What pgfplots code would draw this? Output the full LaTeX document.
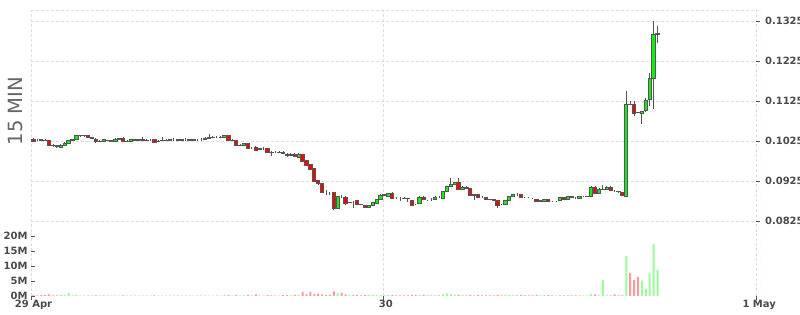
\documentclass[border=0pt]{standalone}
\usepackage{fontspec}
\setmainfont{DejaVu Sans}
\usepackage{pgfplots}
\usepackage{pgfplotstable}
\pgfplotsset{compat=1.18}
\definecolor{gridc}{HTML}{DDDDDD}
\definecolor{wick}{HTML}{555555}
\definecolor{upc}{HTML}{11EE11}
\definecolor{downc}{HTML}{FF0000}
\definecolor{vup}{HTML}{99FF99}
\definecolor{vdown}{HTML}{FF9999}
\definecolor{lab}{HTML}{4A4A4A}
\definecolor{titlec}{HTML}{666666}
\tikzset{gline/.style={gridc, dash pattern=on 3pt off 2pt, line width=0.8pt}}

\pgfplotstableread{
i O H L C V
0 0.10293 0.10313 0.10225 0.10233 0.3
1 0.10275 0.10300 0.10250 0.10275 0.2
2 0.10275 0.10300 0.10238 0.10268 0.3
3 0.10268 0.10288 0.10238 0.10258 0.3
4 0.10258 0.10275 0.10125 0.10143 0.5
5 0.10143 0.10163 0.10093 0.10125 0.2
6 0.10125 0.10150 0.10075 0.10108 0.2
7 0.10093 0.10163 0.10063 0.10143 0.3
8 0.10143 0.10213 0.10125 0.10193 0.4
9 0.10193 0.10275 0.10175 0.10258 1.1
10 0.10258 0.10300 0.10238 0.10288 0.2
11 0.10288 0.10400 0.10275 0.10375 0.3
12 0.10375 0.10408 0.10350 0.10380 0.1
13 0.10380 0.10400 0.10350 0.10375 0.1
14 0.10375 0.10393 0.10313 0.10325 0.1
15 0.10325 0.10338 0.10288 0.10300 0.1
16 0.10293 0.10313 0.10200 0.10225 0.2
17 0.10225 0.10263 0.10213 0.10238 0.1
18 0.10225 0.10288 0.10213 0.10275 0.2
19 0.10263 0.10275 0.10250 0.10250 0.1
20 0.10250 0.10263 0.10225 0.10243 0.1
21 0.10225 0.10313 0.10213 0.10293 0.2
22 0.10293 0.10325 0.10275 0.10300 0.1
23 0.10318 0.10338 0.10213 0.10225 0.2
24 0.10238 0.10263 0.10225 0.10243 0.1
25 0.10238 0.10300 0.10225 0.10280 0.2
26 0.10275 0.10300 0.10250 0.10268 0.1
27 0.10268 0.10300 0.10250 0.10275 0.1
28 0.10275 0.10338 0.10250 0.10268 0.1
29 0.10268 0.10288 0.10238 0.10263 0.1
30 0.10275 0.10300 0.10250 0.10275 0.1
31 0.10275 0.10288 0.10200 0.10218 0.2
32 0.10225 0.10263 0.10213 0.10243 0.1
33 0.10250 0.10338 0.10238 0.10263 0.1
34 0.10263 0.10288 0.10250 0.10268 0.1
35 0.10268 0.10300 0.10250 0.10275 0.1
36 0.10275 0.10325 0.10250 0.10275 0.1
37 0.10275 0.10300 0.10238 0.10268 0.1
38 0.10268 0.10300 0.10250 0.10275 0.1
39 0.10275 0.10313 0.10250 0.10275 0.1
40 0.10275 0.10288 0.10250 0.10268 0.1
41 0.10268 0.10300 0.10250 0.10275 0.1
42 0.10275 0.10300 0.10250 0.10275 0.1
43 0.10275 0.10313 0.10238 0.10275 0.1
44 0.10275 0.10338 0.10263 0.10318 0.2
45 0.10318 0.10413 0.10305 0.10325 0.1
46 0.10325 0.10363 0.10313 0.10333 0.1
47 0.10333 0.10363 0.10313 0.10333 0.1
48 0.10333 0.10375 0.10313 0.10338 0.1
49 0.10333 0.10405 0.10325 0.10383 0.3
50 0.10383 0.10400 0.10250 0.10258 0.3
51 0.10263 0.10288 0.10238 0.10258 0.1
52 0.10258 0.10275 0.10113 0.10133 0.3
53 0.10138 0.10163 0.10113 0.10143 0.1
54 0.10143 0.10200 0.10125 0.10188 0.2
55 0.10193 0.10200 0.10063 0.10068 0.3
56 0.10075 0.10100 0.10038 0.10075 0.1
57 0.10093 0.10113 0.09988 0.10008 0.5
58 0.10025 0.10050 0.10013 0.10050 0.2
59 0.10050 0.10088 0.10013 0.10050 0.1
60 0.10050 0.10063 0.09950 0.09968 0.3
61 0.09963 0.09988 0.09883 0.09958 0.2
62 0.09958 0.09988 0.09938 0.09958 0.1
63 0.09958 0.09988 0.09950 0.09963 0.1
64 0.09968 0.09988 0.09913 0.09925 0.3
65 0.09918 0.09938 0.09850 0.09875 0.3
66 0.09875 0.09938 0.09863 0.09918 0.2
67 0.09918 0.09938 0.09838 0.09858 0.3
68 0.09843 0.09938 0.09825 0.09918 0.3
69 0.09918 0.09930 0.09725 0.09733 1.4
70 0.09750 0.09763 0.09613 0.09625 0.5
71 0.09650 0.09663 0.09513 0.09525 1.4
72 0.09550 0.09563 0.09213 0.09233 0.6
73 0.09258 0.09275 0.09150 0.09175 0.8
74 0.09175 0.09188 0.08938 0.08958 0.5
75 0.08958 0.09025 0.08900 0.08958 0.3
76 0.08958 0.08975 0.08900 0.08958 0.4
77 0.08958 0.08975 0.08513 0.08568 1.5
78 0.08568 0.08875 0.08538 0.08858 1.0
79 0.08858 0.08888 0.08825 0.08858 1.0
80 0.08843 0.08863 0.08638 0.08693 0.5
81 0.08700 0.08725 0.08688 0.08708 0.3
82 0.08708 0.08738 0.08575 0.08708 0.3
83 0.08750 0.08763 0.08638 0.08668 0.4
84 0.08663 0.08675 0.08638 0.08650 0.2
85 0.08643 0.08650 0.08575 0.08593 0.3
86 0.08593 0.08650 0.08575 0.08643 0.3
87 0.08625 0.08725 0.08613 0.08708 0.3
88 0.08693 0.08788 0.08675 0.08775 0.3
89 0.08775 0.08913 0.08763 0.08893 0.4
90 0.08893 0.08900 0.08863 0.08900 0.2
91 0.08868 0.08950 0.08850 0.08933 0.3
92 0.08933 0.08975 0.08800 0.08818 0.3
93 0.08818 0.08850 0.08800 0.08818 0.2
94 0.08818 0.08838 0.08750 0.08818 0.2
95 0.08818 0.08838 0.08800 0.08813 0.2
96 0.08813 0.08825 0.08725 0.08800 0.2
97 0.08758 0.08775 0.08625 0.08643 0.4
98 0.08650 0.08675 0.08638 0.08650 0.3
99 0.08675 0.08863 0.08663 0.08843 0.4
100 0.08843 0.08863 0.08763 0.08775 0.4
101 0.08763 0.08775 0.08750 0.08763 0.2
102 0.08763 0.08825 0.08750 0.08763 0.2
103 0.08775 0.08863 0.08763 0.08843 0.2
104 0.08843 0.08863 0.08825 0.08843 0.2
105 0.08818 0.09000 0.08800 0.08983 0.5
106 0.08983 0.09125 0.08975 0.09108 0.9
107 0.09108 0.09318 0.09088 0.09150 0.6
108 0.09150 0.09225 0.09138 0.09208 0.4
109 0.09208 0.09318 0.09013 0.09025 0.3
110 0.09025 0.09113 0.09013 0.09093 0.3
111 0.09093 0.09113 0.09038 0.09050 0.2
112 0.09050 0.09063 0.08880 0.08893 0.4
113 0.08893 0.08913 0.08775 0.08900 0.2
114 0.08918 0.08925 0.08825 0.08843 0.3
115 0.08843 0.08863 0.08825 0.08843 0.2
116 0.08833 0.08850 0.08780 0.08793 0.2
117 0.08788 0.08800 0.08763 0.08780 0.2
118 0.08780 0.08788 0.08750 0.08763 0.2
119 0.08750 0.08763 0.08583 0.08643 0.4
120 0.08650 0.08663 0.08638 0.08650 0.2
121 0.08650 0.08775 0.08638 0.08758 0.3
122 0.08758 0.08875 0.08750 0.08858 0.3
123 0.08863 0.08913 0.08838 0.08900 0.2
124 0.08900 0.08950 0.08875 0.08900 0.2
125 0.08918 0.08925 0.08825 0.08843 0.3
126 0.08838 0.08850 0.08825 0.08838 0.2
127 0.08825 0.08850 0.08813 0.08825 0.2
128 0.08813 0.08825 0.08800 0.08813 0.2
129 0.08793 0.08800 0.08725 0.08733 0.3
130 0.08738 0.08763 0.08725 0.08750 0.2
131 0.08733 0.08775 0.08725 0.08775 0.3
132 0.08788 0.08800 0.08725 0.08738 0.3
133 0.08738 0.08750 0.08725 0.08738 0.2
134 0.08738 0.08750 0.08725 0.08738 0.1
135 0.08750 0.08850 0.08738 0.08833 0.3
136 0.08833 0.08850 0.08788 0.08793 0.2
137 0.08775 0.08875 0.08763 0.08858 0.3
138 0.08858 0.08868 0.08813 0.08825 0.2
139 0.08818 0.08850 0.08800 0.08818 0.2
140 0.08808 0.08875 0.08800 0.08858 0.2
141 0.08858 0.08875 0.08850 0.08858 0.1
142 0.08858 0.08875 0.08850 0.08863 0.1
143 0.08863 0.09113 0.08850 0.09093 0.6
144 0.09093 0.09113 0.08925 0.08943 0.5
145 0.08943 0.09063 0.08930 0.09043 0.2
146 0.09043 0.09150 0.09025 0.09048 5.3
147 0.09043 0.09113 0.09025 0.09093 0.2
148 0.09093 0.09113 0.09000 0.09008 0.2
149 0.09000 0.09025 0.08975 0.09000 0.5
150 0.08988 0.09000 0.08950 0.08983 0.2
151 0.08958 0.08975 0.08863 0.08875 0.2
152 0.08863 0.11500 0.08850 0.11168 13.3
153 0.11168 0.11250 0.11138 0.11163 7.7
154 0.11168 0.11250 0.10863 0.10943 5.3
155 0.10958 0.10975 0.10938 0.10953 6.3
156 0.10943 0.11000 0.10675 0.10988 5.0
157 0.11000 0.11318 0.10975 0.11263 2.3
158 0.11275 0.11958 0.11125 0.11818 7.7
159 0.11818 0.13258 0.11043 0.12900 17.3
160 0.12900 0.13125 0.12693 0.12938 8.7
}\candles

\begin{document}
\begin{tikzpicture}[x=1pt,y=1pt]
\useasboundingbox (0,0) rectangle (800,315);
\pgfplotsset{
  base/.style={scale only axis, width=729pt, xmin=-0.641, xmax=186.28,
    anchor=south west,
    xtick={-0.641,89.69,185.44},
    axis line style={draw=none},
    grid style={gridc, dash pattern=on 3pt off 2pt, line width=0.8pt},
    tick style={wick, line width=0.9pt},
    major tick length=4pt, tick align=inside,
    ticklabel style={font=\fontsize{10}{12}\selectfont\bfseries, text=lab},
  },
}
\node[rotate=90, font=\fontsize{19.6}{22}\selectfont, text=titlec] at (15.5,204) {15 MIN};
% price panel: grid, ticks and wicks
\begin{axis}[base, at={(31pt,83pt)}, height=222pt,
  ymin=0.07975, ymax=0.13525,
  xmajorgrids, ymajorgrids,
  xticklabels={}, xtick style={draw=none},
  ytick={0.0825,0.0925,0.1025,0.1125,0.1225,0.1325},
  yticklabels={0.0825,0.0925,0.1025,0.1125,0.1225,0.1325},
  ytick pos=right, yticklabel pos=right,
  yticklabel style={anchor=west, xshift=1.5pt}]
  \draw[gline] (rel axis cs:0,1) -- (rel axis cs:1,1);
  \draw[gline] (rel axis cs:1,0) -- (rel axis cs:1,1);
  \addplot[draw=none, mark=none, error bars/.cd, y dir=plus, y explicit,
    error mark=none, error bar style={draw=wick, solid, line width=1pt}]
    table[x=i, y=L, y error expr=\thisrow{H}-\thisrow{L}] {\candles};
\end{axis}
% price panel: bodies
\begin{axis}[scale only axis, width=729pt, height=222pt, at={(31pt,83pt)},
  anchor=south west, xmin=-0.641, xmax=186.28, ymin=0.07975, ymax=0.13525,
  hide axis, ybar stacked, bar width=3.3pt]
  \addplot[draw=none, fill=none] table[x=i, y expr={min(\thisrow{O},\thisrow{C})}] {\candles};
  \addplot[fill=upc, draw=wick, line width=1pt] table[x=i, y expr={max(\thisrow{C}-\thisrow{O},0)}] {\candles};
  \addplot[fill=downc, draw=wick, line width=1pt] table[x=i, y expr={max(\thisrow{O}-\thisrow{C},0)}] {\candles};
\end{axis}
% volume panel
\begin{axis}[base, at={(31pt,19pt)}, height=64pt, ymin=0, ymax=21.333,
  xmajorgrids,
  xticklabels={29 Apr,30,1 May},
  xticklabel style={xshift=2.5pt, yshift=-0.5pt},
  xtick style={yshift=-4pt},
  ytick={0,5,10,15,20}, yticklabels={0M,5M,10M,15M,20M},
  ytick pos=left, xtick pos=bottom]
  \draw[gline] (rel axis cs:0,0) -- (rel axis cs:1,0);
  \draw[gline] (rel axis cs:1,0) -- (rel axis cs:1,1);
  \addplot[ybar, bar width=2pt, bar shift=0pt, fill=vup, draw=none]
    table[x=i, y expr={(\thisrow{C}>\thisrow{O})*\thisrow{V}}] {\candles};
  \addplot[ybar, bar width=2pt, bar shift=0pt, fill=vdown, draw=none]
    table[x=i, y expr={(\thisrow{C}<=\thisrow{O})*\thisrow{V}}] {\candles};
\end{axis}
\end{tikzpicture}
\end{document}
